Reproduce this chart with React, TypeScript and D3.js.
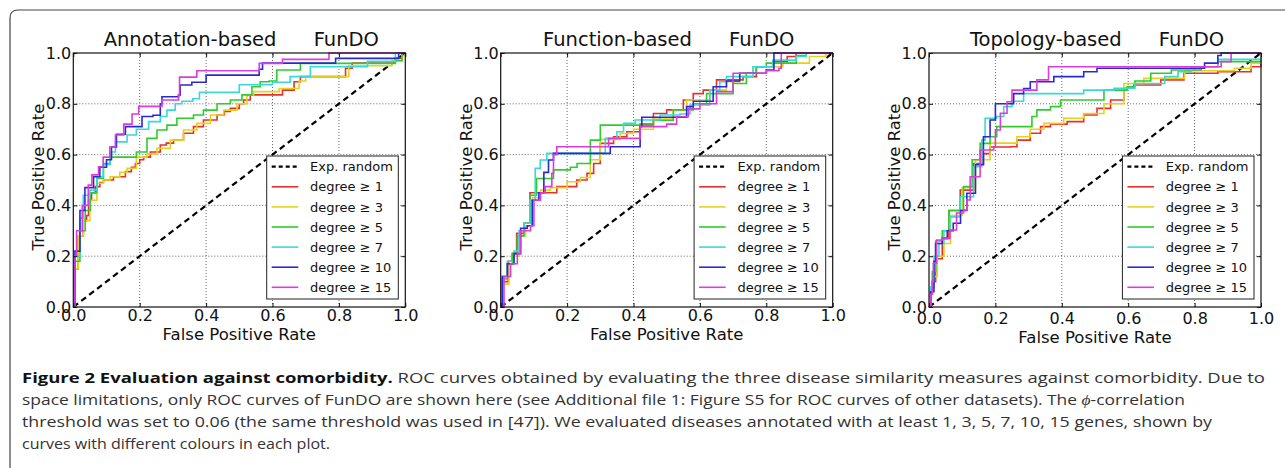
import * as d3 from 'd3'
import { useEffect, useRef } from 'react'

// axis ticks shared by all three panels
const tickValues = [0, 0.2, 0.4, 0.6, 0.8, 1.0]
const degrees = [1, 3, 5, 7, 10, 15]
const seriesColors = ['#e8302a', '#e6d21c', '#2ecc2e', '#3ad8d8', '#2a2ad2', '#dc3cdc']
const panelTitles = ['Annotation-based', 'Function-based', 'Topology-based']

// ROC points [false positive rate, true positive rate]
const annoDeg1 = [[0,0],[0.005,0.15],[0.015,0.28],[0.03,0.34],[0.04,0.36],[0.046,0.42],[0.055,0.45],[0.066,0.474],[0.08,0.49],[0.091,0.5],[0.121,0.513],[0.157,0.533],[0.175,0.55],[0.187,0.565],[0.2,0.58],[0.212,0.59],[0.232,0.61],[0.262,0.638],[0.28,0.645],[0.302,0.657],[0.332,0.684],[0.362,0.71],[0.392,0.736],[0.433,0.756],[0.455,0.77],[0.473,0.782],[0.5,0.8],[0.513,0.815],[0.533,0.835],[0.6,0.835],[0.63,0.854],[0.665,0.887],[0.684,0.907],[0.81,0.907],[0.82,0.94],[0.84,0.96],[0.95,0.96],[0.97,0.98],[0.99,1],[1,1]]
const annoDeg3 = [[0,0],[0.005,0.15],[0.015,0.28],[0.031,0.34],[0.05,0.42],[0.071,0.487],[0.09,0.5],[0.111,0.513],[0.14,0.53],[0.162,0.546],[0.19,0.59],[0.222,0.603],[0.252,0.625],[0.292,0.657],[0.332,0.697],[0.372,0.723],[0.413,0.756],[0.453,0.775],[0.493,0.8],[0.523,0.835],[0.543,0.848],[0.6,0.848],[0.62,0.86],[0.68,0.89],[0.7,0.907],[0.81,0.907],[0.83,0.95],[0.92,0.95],[0.96,0.97],[0.99,0.99],[1,1]]
const annoDeg5 = [[0,0],[0.005,0.18],[0.02,0.3],[0.036,0.38],[0.051,0.45],[0.071,0.507],[0.091,0.565],[0.111,0.59],[0.16,0.59],[0.19,0.61],[0.222,0.664],[0.252,0.697],[0.282,0.716],[0.312,0.743],[0.362,0.756],[0.392,0.775],[0.433,0.8],[0.473,0.815],[0.508,0.835],[0.538,0.867],[0.563,0.887],[0.59,0.89],[0.613,0.933],[0.684,0.959],[0.97,0.97],[0.99,1],[1,1]]
const annoDeg7 = [[0,0],[0.005,0.2],[0.02,0.35],[0.03,0.44],[0.05,0.46],[0.071,0.513],[0.09,0.56],[0.111,0.61],[0.127,0.65],[0.162,0.677],[0.19,0.7],[0.227,0.73],[0.262,0.75],[0.282,0.775],[0.307,0.8],[0.327,0.81],[0.36,0.82],[0.38,0.845],[0.48,0.845],[0.5,0.875],[0.6,0.885],[0.653,0.907],[0.714,0.946],[0.886,0.967],[0.97,1],[1,1]]
const annoDeg10 = [[0,0],[0.005,0.22],[0.02,0.38],[0.035,0.47],[0.061,0.513],[0.08,0.55],[0.1,0.58],[0.115,0.63],[0.13,0.68],[0.157,0.71],[0.2,0.71],[0.207,0.75],[0.24,0.755],[0.262,0.8],[0.267,0.828],[0.317,0.835],[0.322,0.874],[0.357,0.885],[0.4,0.913],[0.55,0.913],[0.56,0.936],[0.57,0.96],[0.78,0.96],[0.79,0.979],[0.97,0.979],[0.98,1],[1,1]]
const annoDeg15 = [[0,0],[0.005,0.2],[0.01,0.3],[0.027,0.4],[0.045,0.48],[0.056,0.52],[0.076,0.552],[0.09,0.59],[0.11,0.63],[0.127,0.677],[0.152,0.72],[0.177,0.76],[0.197,0.79],[0.252,0.79],[0.267,0.815],[0.317,0.835],[0.32,0.905],[0.367,0.905],[0.372,0.93],[0.553,0.93],[0.56,0.959],[0.62,0.959],[0.63,0.975],[0.75,0.975],[0.77,1],[1,1]]

const funcDeg1 = [[0,0],[0.005,0.1],[0.023,0.18],[0.035,0.211],[0.048,0.29],[0.07,0.33],[0.088,0.45],[0.159,0.45],[0.169,0.474],[0.219,0.474],[0.229,0.5],[0.26,0.526],[0.28,0.565],[0.3,0.644],[0.34,0.67],[0.38,0.69],[0.42,0.72],[0.46,0.762],[0.5,0.776],[0.55,0.815],[0.58,0.84],[0.61,0.854],[0.65,0.894],[0.73,0.907],[0.77,0.946],[0.82,0.966],[0.863,0.986],[0.89,1],[1,1]]
const funcDeg3 = [[0,0],[0.005,0.09],[0.025,0.17],[0.04,0.2],[0.055,0.28],[0.075,0.32],[0.095,0.43],[0.12,0.46],[0.15,0.47],[0.2,0.493],[0.24,0.51],[0.27,0.58],[0.3,0.66],[0.36,0.683],[0.4,0.7],[0.46,0.74],[0.52,0.776],[0.56,0.815],[0.63,0.854],[0.68,0.887],[0.72,0.92],[0.76,0.946],[0.85,0.96],[0.93,0.986],[0.98,1],[1,1]]
const funcDeg5 = [[0,0],[0.005,0.11],[0.02,0.17],[0.035,0.21],[0.05,0.28],[0.07,0.33],[0.088,0.44],[0.108,0.506],[0.159,0.54],[0.21,0.55],[0.23,0.565],[0.27,0.657],[0.3,0.716],[0.38,0.716],[0.46,0.735],[0.52,0.776],[0.58,0.8],[0.62,0.84],[0.7,0.88],[0.74,0.92],[0.77,0.946],[0.8,0.96],[0.89,0.99],[0.92,1],[1,1]]
const funcDeg7 = [[0,0],[0.005,0.12],[0.02,0.18],[0.04,0.22],[0.055,0.3],[0.07,0.33],[0.088,0.42],[0.104,0.546],[0.119,0.579],[0.139,0.605],[0.27,0.605],[0.315,0.664],[0.35,0.69],[0.37,0.723],[0.405,0.736],[0.48,0.756],[0.54,0.76],[0.57,0.795],[0.63,0.854],[0.66,0.887],[0.68,0.907],[0.76,0.946],[0.82,0.972],[0.89,0.986],[0.92,1],[1,1]]
const funcDeg10 = [[0,0],[0.005,0.12],[0.02,0.17],[0.04,0.21],[0.06,0.31],[0.08,0.32],[0.095,0.42],[0.115,0.45],[0.13,0.53],[0.144,0.579],[0.159,0.605],[0.3,0.605],[0.33,0.631],[0.41,0.631],[0.42,0.71],[0.425,0.747],[0.55,0.747],[0.56,0.789],[0.58,0.81],[0.62,0.81],[0.64,0.867],[0.68,0.89],[0.72,0.92],[0.8,0.933],[0.823,1],[1,1]]
const funcDeg15 = [[0,0],[0.01,0.12],[0.03,0.17],[0.05,0.21],[0.06,0.3],[0.09,0.32],[0.1,0.42],[0.12,0.45],[0.134,0.474],[0.154,0.526],[0.159,0.6],[0.169,0.631],[0.31,0.631],[0.325,0.664],[0.41,0.664],[0.42,0.71],[0.5,0.72],[0.53,0.749],[0.565,0.78],[0.6,0.8],[0.65,0.848],[0.7,0.92],[0.8,0.93],[0.838,0.94],[0.845,1],[1,1]]

const topoDeg1 = [[0,0],[0.005,0.05],[0.01,0.1],[0.02,0.19],[0.04,0.27],[0.06,0.38],[0.094,0.46],[0.134,0.565],[0.164,0.604],[0.184,0.63],[0.245,0.631],[0.265,0.657],[0.305,0.684],[0.336,0.71],[0.366,0.72],[0.416,0.73],[0.466,0.756],[0.506,0.782],[0.547,0.815],[0.587,0.861],[0.617,0.874],[0.698,0.894],[0.768,0.92],[0.87,0.926],[0.97,0.946],[1,0.96]]
const topoDeg3 = [[0,0],[0.005,0.06],[0.012,0.12],[0.025,0.2],[0.045,0.25],[0.065,0.36],[0.1,0.47],[0.14,0.58],[0.184,0.645],[0.265,0.67],[0.305,0.7],[0.346,0.723],[0.406,0.743],[0.466,0.762],[0.527,0.8],[0.587,0.88],[0.647,0.9],[0.77,0.93],[0.92,0.94],[0.97,0.96],[1,0.97]]
const topoDeg5 = [[0,0],[0.005,0.07],[0.01,0.14],[0.02,0.26],[0.04,0.3],[0.06,0.38],[0.104,0.474],[0.13,0.58],[0.154,0.644],[0.184,0.67],[0.204,0.71],[0.285,0.71],[0.31,0.75],[0.325,0.776],[0.366,0.789],[0.396,0.815],[0.527,0.854],[0.597,0.867],[0.62,0.89],[0.668,0.92],[0.73,0.933],[0.82,0.946],[0.87,0.966],[1,0.98]]
const topoDeg7 = [[0,0],[0.005,0.08],[0.015,0.2],[0.03,0.25],[0.045,0.3],[0.063,0.355],[0.094,0.434],[0.134,0.552],[0.159,0.657],[0.169,0.743],[0.204,0.75],[0.225,0.789],[0.25,0.81],[0.285,0.84],[0.466,0.854],[0.557,0.861],[0.62,0.88],[0.71,0.907],[0.75,0.926],[0.79,0.946],[0.87,0.975],[1,0.985]]
const topoDeg10 = [[0,0],[0.005,0.06],[0.015,0.18],[0.02,0.25],[0.04,0.27],[0.055,0.3],[0.073,0.33],[0.095,0.38],[0.114,0.448],[0.14,0.56],[0.164,0.67],[0.184,0.736],[0.2,0.8],[0.245,0.8],[0.255,0.84],[0.285,0.86],[0.305,0.887],[0.366,0.887],[0.376,0.907],[0.466,0.926],[0.506,0.94],[0.81,0.94],[0.83,0.96],[0.87,0.99],[0.88,1],[1,1]]
const topoDeg15 = [[0,0],[0.005,0.05],[0.01,0.1],[0.013,0.172],[0.023,0.264],[0.04,0.27],[0.063,0.303],[0.083,0.37],[0.104,0.382],[0.114,0.421],[0.124,0.513],[0.154,0.618],[0.195,0.631],[0.2,0.697],[0.215,0.763],[0.235,0.808],[0.25,0.854],[0.29,0.854],[0.325,0.894],[0.36,0.946],[0.87,0.946],[0.88,0.966],[0.91,1],[1,1]]

const panelSeries = [
  [annoDeg1, annoDeg3, annoDeg5, annoDeg7, annoDeg10, annoDeg15],
  [funcDeg1, funcDeg3, funcDeg5, funcDeg7, funcDeg10, funcDeg15],
  [topoDeg1, topoDeg3, topoDeg5, topoDeg7, topoDeg10, topoDeg15],
]

const FONT = 'DejaVu Sans'

const App = () => {
  const gRef = useRef(null)

  useEffect(() => {
    const root = d3.select(gRef.current)
    root.selectAll('*').remove()

    const lefts = [73.3, 500.7, 929]
    const top = 53
    const W = 332
    const H = 254

    panelSeries.forEach((series, p) => {
      const left = lefts[p]
      const x = d3.scaleLinear().domain([0, 1]).range([left, left + W])
      const y = d3.scaleLinear().domain([0, 1]).range([top + H, top])
      const g = root.append('g')
      const shift = p === 2 ? 3 : 0

      // dotted grid
      g.selectAll('.gx').data(tickValues.slice(1, -1)).enter().append('line')
        .attr('x1', d => x(d)).attr('x2', d => x(d)).attr('y1', y(0)).attr('y2', y(1))
        .attr('stroke', '#444').attr('stroke-width', 0.8).attr('stroke-dasharray', '1,2')
      g.selectAll('.gy').data(tickValues.slice(1, -1)).enter().append('line')
        .attr('y1', d => y(d)).attr('y2', d => y(d)).attr('x1', x(0)).attr('x2', x(1))
        .attr('stroke', '#444').attr('stroke-width', 0.8).attr('stroke-dasharray', '1,2')

      // expected random
      g.append('line')
        .attr('x1', x(0)).attr('y1', y(0)).attr('x2', x(1)).attr('y2', y(1))
        .attr('stroke', '#000').attr('stroke-width', 2.2).attr('stroke-dasharray', '6,4')

      const line = d3.line().x(d => x(d[0])).y(d => y(d[1])).curve(d3.curveStepAfter)
      series.forEach((s, i) => {
        g.append('path').attr('d', line(s)).attr('fill', 'none')
          .attr('stroke', seriesColors[i]).attr('stroke-width', 1.6)
      })

      // frame
      g.append('rect').attr('x', x(0)).attr('y', y(1)).attr('width', W).attr('height', H)
        .attr('fill', 'none').attr('stroke', '#111').attr('stroke-width', 1.2)

      // axes
      const fmt = d3.format('.1f')
      const ax = g.append('g').attr('transform', `translate(0,${y(0) + shift})`)
        .call(d3.axisBottom(x).tickValues(tickValues).tickFormat(fmt).tickSizeInner(-4).tickSizeOuter(0).tickPadding(3))
      const ay = g.append('g').attr('transform', `translate(${x(0)},0)`)
        .call(d3.axisLeft(y).tickValues(tickValues).tickFormat(fmt).tickSizeInner(-4).tickSizeOuter(0).tickPadding(2))
      g.append('g').attr('transform', `translate(0,${y(1)})`)
        .call(d3.axisTop(x).tickValues(tickValues).tickFormat(() => '').tickSizeInner(-4).tickSizeOuter(0))
      g.append('g').attr('transform', `translate(${x(1)},0)`)
        .call(d3.axisRight(y).tickValues(tickValues).tickFormat(() => '').tickSizeInner(-4).tickSizeOuter(0))
      g.selectAll('.domain').remove()
      g.selectAll('.tick line').attr('stroke', '#111')
      ;[ax, ay].forEach(a => a.selectAll('text').attr('font-size', 16).attr('font-family', FONT).attr('fill', '#111'))
      ax.selectAll('.tick line').attr('transform', `translate(0,${-shift})`)

      // labels
      g.append('text').attr('x', x(0.5)).attr('y', y(0) + 33 + shift).attr('text-anchor', 'middle')
        .attr('font-size', 16.5).attr('font-family', FONT).attr('fill', '#111').text('False Positive Rate')
      g.append('text').attr('transform', `translate(${x(0) - 29},${top + 124}) rotate(-90)`)
        .attr('text-anchor', 'middle').attr('font-size', 16.5).attr('font-family', FONT).attr('fill', '#111')
        .text('True Positive Rate')
      g.append('text').attr('x', x(0.5) + 2).attr('y', top - 7).attr('text-anchor', 'middle')
        .style('white-space', 'pre').attr('font-size', 19.5).attr('font-family', FONT).attr('fill', '#111')
        .text(`${panelTitles[p]}      FunDO`)

      // legend
      const lx = x(1) - 138.6
      const ly = y(1) + 103
      const lg = g.append('g')
      lg.append('rect').attr('x', lx).attr('y', ly).attr('width', 131.6).attr('height', y(0) - 8 - ly)
        .attr('fill', '#fff').attr('stroke', '#222').attr('stroke-width', 1)
      const rows = [{ label: 'Exp. random', color: '#000', dash: '4,3', w: 2.2 }].concat(
        degrees.map((d, i) => ({ label: `degree ≥ ${d}`, color: seriesColors[i], dash: null, w: 1.6 })))
      rows.forEach((r, i) => {
        const ry = ly + 10.7 + i * 20.1
        lg.append('line').attr('x1', lx + 5).attr('x2', lx + 31.6).attr('y1', ry).attr('y2', ry)
          .attr('stroke', r.color).attr('stroke-width', r.w).attr('stroke-dasharray', r.dash)
        lg.append('text').attr('x', lx + 43.3).attr('y', ry).attr('dy', '0.36em')
          .attr('font-size', 13).attr('font-family', FONT).attr('fill', '#111').text(r.label)
      })
    })
  }, [])

  const cap = { fontFamily: 'Open Sans', fontSize: 15, fill: '#333' }
  return (
    <svg width={1285} height={468} style={{ position: 'absolute', left: 0, top: 0, background: '#fff' }}>
      <path d="M10,470 V18 Q10,10 18,10 H1290" fill="none" stroke="#444" strokeWidth={1.2} />
      <g ref={gRef} />
      <text x={22} y={383} textLength={1243} lengthAdjust="spacingAndGlyphs" {...cap}>
        <tspan fontWeight="bold" fill="#111">Figure 2 Evaluation against comorbidity.</tspan> ROC curves obtained by evaluating the three disease similarity measures against comorbidity. Due to
      </text>
      <text x={22} y={405} textLength={1163} lengthAdjust="spacingAndGlyphs" {...cap}>
        space limitations, only ROC curves of FunDO are shown here (see Additional file 1: Figure S5 for ROC curves of other datasets). The <tspan fontStyle="italic">ϕ</tspan>-correlation
      </text>
      <text x={22} y={427} textLength={1190} lengthAdjust="spacingAndGlyphs" {...cap}>
        threshold was set to 0.06 (the same threshold was used in [47]). We evaluated diseases annotated with at least 1, 3, 5, 7, 10, 15 genes, shown by
      </text>
      <text x={22} y={449} textLength={308} lengthAdjust="spacingAndGlyphs" {...cap}>
        curves with different colours in each plot.
      </text>
    </svg>
  )
}

export default App
